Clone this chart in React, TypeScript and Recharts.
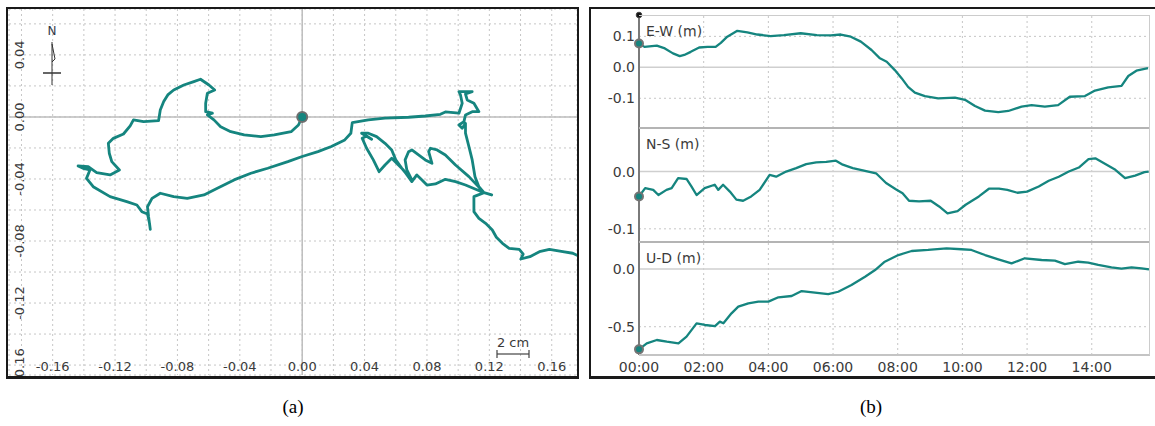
import { LineChart, Line, XAxis, YAxis, CartesianGrid, ReferenceLine, ReferenceDot } from 'recharts'

// ---- panel (a): horizontal track, metres east / north of the start point ----
const trackEast = [
  0, -0.0024, -0.0071, -0.0179, -0.0265, -0.0372, -0.0458, -0.0523, -0.0566, -0.0608,
  -0.0576, -0.0619, -0.0619, -0.0608, -0.0561, -0.0598, -0.0652, -0.0695, -0.0759, -0.0824,
  -0.0862, -0.0888, -0.091, -0.0921, -0.1017, -0.1082, -0.1103, -0.1146, -0.1211, -0.1243,
  -0.1237, -0.1221, -0.1172, -0.1232, -0.1318, -0.1372, -0.1437, -0.1405, -0.1361, -0.1383,
  -0.134, -0.1232, -0.1125, -0.106, -0.1028, -0.0992, -0.0979, -0.0974, -0.0985, -0.0992,
  -0.0963, -0.091, -0.0824, -0.0737, -0.063, -0.0544, -0.0437, -0.0329, -0.0221, -0.0092,
  0.0, 0.0101, 0.0187, 0.0273, 0.0312, 0.0321, 0.0424, 0.0531, 0.0682, 0.0789,
  0.0886, 0.0918, 0.1005, 0.1026, 0.1015, 0.1005, 0.109, 0.1047, 0.1058, 0.1101,
  0.1133, 0.109, 0.1047, 0.1037, 0.1005, 0.1026, 0.1047, 0.1047, 0.1069, 0.109,
  0.1108, 0.1133, 0.1166, 0.1215, 0.1166, 0.1069, 0.0983, 0.0918, 0.0865, 0.0822,
  0.0811, 0.0832, 0.0789, 0.0746, 0.0703, 0.0682, 0.066, 0.0671, 0.0703, 0.0682,
  0.0639, 0.06, 0.0574, 0.0531, 0.0477, 0.0424, 0.0381, 0.0445, 0.0413, 0.0385,
  0.0413, 0.0456, 0.0493, 0.0531, 0.0574, 0.0606, 0.0649, 0.0703, 0.0735, 0.0768,
  0.08, 0.0854, 0.0918, 0.0983, 0.1047, 0.1112, 0.1166, 0.1101, 0.1101, 0.1133,
  0.1176, 0.1219, 0.1245, 0.1284, 0.1327, 0.1392, 0.1417, 0.1402, 0.146, 0.1521,
  0.1585, 0.1671, 0.1735, 0.179,
]
const trackNorth = [
  0, -0.0052, -0.0095, -0.0116, -0.0127, -0.0116, -0.0095, -0.0063, -0.0019, 0.0013,
  0.0024, 0.0034, 0.0088, 0.0153, 0.0174, 0.0206, 0.0243, 0.0228, 0.0206, 0.0174,
  0.0142, 0.0099, 0.0045, -0.0024, -0.003, -0.0019, -0.0058, -0.011, -0.0138, -0.017,
  -0.0234, -0.0288, -0.0342, -0.0374, -0.0359, -0.0321, -0.0316, -0.0331, -0.0342, -0.0396,
  -0.045, -0.0514, -0.0546, -0.0568, -0.0611, -0.0626, -0.0686, -0.0725, -0.0643, -0.0579,
  -0.0525, -0.0492, -0.0514, -0.0525, -0.0503, -0.046, -0.0406, -0.0363, -0.0331, -0.0288,
  -0.0255, -0.0224, -0.0191, -0.0148, -0.0105, -0.0037, -0.0019, -0.0008, -0.0002, 0.0006,
  0.0017, 0.0032, 0.0024, 0.0088, 0.0142, 0.0163, 0.0163, 0.0148, 0.011, 0.0088,
  0.0034, 0.0034, 0.0013, -0.003, -0.0052, -0.0073, -0.0041, -0.0105, -0.0191, -0.0277,
  -0.0385, -0.045, -0.0488, -0.0503, -0.0488, -0.0385, -0.031, -0.0245, -0.0213, -0.0202,
  -0.0224, -0.0299, -0.0277, -0.0245, -0.0213, -0.0224, -0.0277, -0.0342, -0.0406, -0.0385,
  -0.0331, -0.0277, -0.0213, -0.017, -0.0127, -0.0105, -0.0105, -0.0144, -0.0123, -0.0138,
  -0.0202, -0.0277, -0.0353, -0.031, -0.0267, -0.0299, -0.0342, -0.0417, -0.0374, -0.0406,
  -0.0439, -0.0432, -0.0402, -0.0417, -0.0439, -0.0466, -0.0488, -0.0514, -0.0611, -0.0654,
  -0.0686, -0.0729, -0.0776, -0.0815, -0.0847, -0.0854, -0.0884, -0.0916, -0.0901, -0.0869,
  -0.0854, -0.0869, -0.0879, -0.0905,
]
const gridEast = [-0.18, -0.16, -0.14, -0.12, -0.1, -0.08, -0.06, -0.04, -0.02, 0, 0.02, 0.04, 0.06, 0.08, 0.1, 0.12, 0.14, 0.16]
const gridNorth = [0.06, 0.04, 0.02, 0, -0.02, -0.04, -0.06, -0.08, -0.1, -0.12, -0.14, -0.16]

// ---- panel (b): time series, hours since start ----
const ewTime = [0, 0.17, 0.55, 0.8, 1.05, 1.26, 1.4, 1.6, 1.86, 2.12, 2.37, 2.53, 2.73, 3.04, 3.35, 3.66, 4.07, 4.48, 5.0, 5.5, 5.93, 6.24, 6.55, 6.86, 7.19, 7.45, 7.66, 7.91, 8.12, 8.32, 8.53, 8.84, 9.25, 9.77, 10.08, 10.39, 10.7, 11.11, 11.42, 11.83, 12.14, 12.55, 12.96, 13.32, 13.79, 14.1, 14.51, 14.92, 15.13, 15.38, 15.74]
const ewValue = [0.077, 0.066, 0.07, 0.061, 0.045, 0.036, 0.04, 0.05, 0.064, 0.066, 0.066, 0.079, 0.099, 0.118, 0.113, 0.106, 0.101, 0.104, 0.11, 0.104, 0.103, 0.106, 0.099, 0.083, 0.056, 0.029, 0.018, -0.009, -0.035, -0.063, -0.082, -0.093, -0.1, -0.098, -0.105, -0.125, -0.14, -0.145, -0.141, -0.127, -0.122, -0.127, -0.122, -0.095, -0.093, -0.075, -0.065, -0.06, -0.028, -0.011, -0.003]

const nsTime = [0, 0.19, 0.44, 0.6, 0.85, 1.01, 1.21, 1.47, 1.62, 1.78, 2.03, 2.34, 2.45, 2.6, 2.81, 3.01, 3.22, 3.47, 3.73, 4.04, 4.24, 4.55, 4.86, 5.17, 5.48, 5.79, 6.09, 6.3, 6.61, 6.92, 7.33, 7.64, 7.94, 8.15, 8.35, 8.66, 9.02, 9.28, 9.54, 9.85, 10.1, 10.51, 10.82, 11.13, 11.39, 11.7, 12.0, 12.36, 12.67, 12.98, 13.29, 13.6, 13.9, 14.11, 14.42, 14.73, 15.03, 15.34, 15.63, 15.76]
const nsValue = [-0.0435, -0.029, -0.032, -0.041, -0.032, -0.029, -0.0116, -0.013, -0.026, -0.041, -0.029, -0.023, -0.032, -0.023, -0.035, -0.049, -0.051, -0.0435, -0.032, -0.006, -0.009, 0.0, 0.006, 0.013, 0.016, 0.017, 0.019, 0.012, 0.006, 0.002, -0.003, -0.02, -0.031, -0.038, -0.051, -0.052, -0.051, -0.061, -0.073, -0.069, -0.058, -0.0435, -0.03, -0.03, -0.032, -0.037, -0.035, -0.026, -0.016, -0.009, 0.0, 0.007, 0.0215, 0.023, 0.013, 0.003, -0.0116, -0.007, -0.001, 0.0]

const udTime = [0, 0.24, 0.55, 0.86, 1.22, 1.47, 1.78, 2.04, 2.35, 2.5, 2.61, 2.86, 3.07, 3.38, 3.69, 4.0, 4.31, 4.72, 5.03, 5.44, 5.85, 6.16, 6.57, 6.99, 7.3, 7.6, 8.02, 8.43, 8.94, 9.51, 9.97, 10.28, 10.7, 11.11, 11.52, 11.93, 12.45, 12.86, 13.17, 13.58, 13.89, 14.2, 14.61, 14.92, 15.23, 15.54, 15.77]
const udValue = [-0.696, -0.644, -0.615, -0.63, -0.644, -0.586, -0.471, -0.485, -0.494, -0.456, -0.47, -0.384, -0.326, -0.297, -0.283, -0.283, -0.245, -0.234, -0.191, -0.205, -0.217, -0.197, -0.139, -0.067, -0.009, 0.063, 0.121, 0.156, 0.165, 0.179, 0.171, 0.165, 0.121, 0.084, 0.049, 0.093, 0.078, 0.072, 0.043, 0.063, 0.055, 0.035, 0.015, 0.003, 0.015, 0.006, -0.003]

const hourTicks = [0, 2, 4, 6, 8, 10, 12, 14]

const TEAL = '#15857f'
const INK = '#3a3a3a'
const SANS = '"DejaVu Sans", Verdana, sans-serif'

const track = trackEast.map((x, i) => ({ x, y: trackNorth[i] }))
const zip = (t: number[], v: number[]) => t.map((h, i) => ({ t: h, v: v[i] }))

const isLabelled = (v: number) => Math.abs(Math.round(v * 100)) % 4 === 0

// tick labels of panel (a) sit inside the plot frame
function TrackXTick(props: any) {
  const { x, payload } = props
  if (!isLabelled(payload.value)) return <g />
  return (
    <text x={x} y={362} textAnchor="middle" fontSize={13} fontFamily={SANS} fill={INK}>
      {payload.value.toFixed(2)}
    </text>
  )
}

function TrackYTick(props: any) {
  const { y, payload } = props
  if (!isLabelled(payload.value)) return <g />
  return (
    <text transform={`translate(16,${y}) rotate(-90)`} textAnchor="middle" fontSize={13} fontFamily={SANS} fill={INK}>
      {payload.value.toFixed(2)}
    </text>
  )
}

function TrackPanel() {
  return (
    <div style={{ position: 'absolute', left: 8, top: 9 }}>
      <LineChart width={569} height={367} data={track} margin={{ top: 0, right: 0, bottom: 0, left: 0 }}>
        <CartesianGrid stroke="#c6c6c6" strokeDasharray="2 3" />
        <XAxis type="number" dataKey="x" domain={[-0.188, 0.1762]} ticks={gridEast} allowDataOverflow
          interval={0} height={1} axisLine={false} tickLine={false} tick={TrackXTick} />
        <YAxis type="number" domain={[-0.1664, 0.0696]} ticks={gridNorth} allowDataOverflow
          interval={0} width={1} axisLine={false} tickLine={false} tick={TrackYTick} />
        <ReferenceLine x={0} stroke="#bdbdbd" strokeWidth={1.5} />
        <ReferenceLine y={0} stroke="#bdbdbd" strokeWidth={1.5} />
        <Line dataKey="y" stroke={TEAL} strokeWidth={2.8} dot={false} isAnimationActive={false} strokeLinejoin="round" />
        <ReferenceDot x={0} y={0} r={5} fill={TEAL} stroke="#6e6e6e" strokeWidth={2} />
      </LineChart>
    </div>
  )
}

interface StripProps {
  data: { t: number; v: number }[]
  domain: [number, number]
  ticks: number[]
  top: number
  height: number
  marginTop: number
  showTime?: boolean
}

function Strip({ data, domain, ticks, top, height, marginTop, showTime }: StripProps) {
  return (
    <div style={{ position: 'absolute', left: 590, top }}>
      <LineChart width={560} height={height} data={data} margin={{ top: marginTop, right: 1, bottom: 0, left: 0 }}>
        <XAxis type="number" dataKey="t" domain={[0, 15.77]} ticks={hourTicks} interval={0}
          hide={!showTime} height={showTime ? 23 : 0} axisLine={false} tickLine={false} tickSize={0} tickMargin={7}
          tick={{ fontSize: 14, fontFamily: SANS, fill: INK }}
          tickFormatter={(h: number) => `${String(h).padStart(2, '0')}:00`} />
        <YAxis type="number" domain={domain} ticks={ticks} interval={0} width={49} allowDataOverflow
          axisLine={{ stroke: '#7a7a7a', strokeWidth: 2 }} tickLine={false} tickSize={0} tickMargin={4}
          tick={{ fontSize: 14, fontFamily: SANS, fill: INK }} tickFormatter={(v: number) => v.toFixed(1)} />
        {hourTicks.slice(1).map((h) => (
          <ReferenceLine key={h} x={h} stroke="#c6c6c6" strokeDasharray="2 3" />
        ))}
        {ticks.map((v) => (
          <ReferenceLine key={v} y={v} stroke={v === 0 ? '#cfcfcf' : '#c6c6c6'} strokeWidth={v === 0 ? 1.5 : 1}
            strokeDasharray={v === 0 ? undefined : '2 3'} />
        ))}
        <Line dataKey="v" stroke={TEAL} strokeWidth={2.3} dot={false} isAnimationActive={false} strokeLinejoin="round" />
        <ReferenceDot x={0} y={data[0].v} r={4} fill={TEAL} stroke="#747474" strokeWidth={2} />
        {marginTop > 0 && <ReferenceDot x={0} y={domain[1]} r={2.8} fill="#111" stroke="#444" strokeWidth={1} />}
      </LineChart>
    </div>
  )
}

const hline = (left: number, top: number, width: number, color: string, h = 1) => (
  <div style={{ position: 'absolute', left, top, width, height: h, background: color }} />
)

export default function App() {
  return (
    <div style={{ position: 'absolute', left: 0, top: 0, width: 1155, height: 426, background: '#fff', overflow: 'hidden' }}>
      <TrackPanel />
      {/* north arrow + scale bar */}
      <svg width={579} height={379} style={{ position: 'absolute', left: 0, top: 0, pointerEvents: 'none' }}>
        <text x={52} y={35} textAnchor="middle" fontSize={12} fontFamily={SANS} fill="#333a48">N</text>
        <line x1={52} y1={42} x2={52} y2={85} stroke="#333" strokeWidth={1} />
        <polyline points="52,44 55,59 52,62" fill="none" stroke="#333" strokeWidth={1} />
        <line x1={43} y1={73} x2={61} y2={73} stroke="#333" strokeWidth={1.5} />
        <text x={513} y={347} textAnchor="middle" fontSize={13} fontFamily={SANS} fill={INK}>2 cm</text>
        <line x1={497} y1={354} x2={529} y2={354} stroke="#444" strokeWidth={1.2} />
        <line x1={497} y1={350} x2={497} y2={358} stroke="#444" strokeWidth={1.2} />
        <line x1={529} y1={350} x2={529} y2={358} stroke="#444" strokeWidth={1.2} />
      </svg>
      <div style={{ position: 'absolute', left: 6, top: 7, width: 573, height: 372, boxSizing: 'border-box',
        borderTop: '2px solid #1a1a1a', borderLeft: '2px solid #1a1a1a', borderRight: '2px solid #1a1a1a', borderBottom: '3px solid #1a1a1a' }} />

      <Strip data={zip(ewTime, ewValue)} domain={[-0.196, 0.169]} ticks={[0.1, 0, -0.1]} top={8} height={120} marginTop={7} />
      <Strip data={zip(nsTime, nsValue)} domain={[-0.123, 0.076]} ticks={[0, -0.1]} top={128} height={114} marginTop={0} />
      <Strip data={zip(udTime, udValue)} domain={[-0.745, 0.234]} ticks={[0, -0.5]} top={242} height={136} marginTop={0} showTime />

      {hline(639, 15, 510, '#cccccc')}
      {hline(639, 127, 510, '#b4b4b4', 1.5)}
      {hline(639, 241, 510, '#b4b4b4', 1.5)}
      {hline(639, 354, 511, '#c4c4c4', 1.5)}
      <div style={{ position: 'absolute', left: 1149, top: 15, width: 1, height: 340, background: '#cccccc' }} />

      {[['E-W (m)', 24], ['N-S (m)', 137], ['U-D (m)', 251]].map(([t, y]) => (
        <div key={t as string} style={{ position: 'absolute', left: 646, top: y as number, fontFamily: SANS, fontSize: 14, color: INK, lineHeight: '14px', whiteSpace: 'nowrap' }}>{t}</div>
      ))}

      <div style={{ position: 'absolute', left: 589, top: 7, width: 570, height: 372, boxSizing: 'border-box',
        borderTop: '2px solid #1a1a1a', borderLeft: '2px solid #1a1a1a', borderBottom: '3px solid #1a1a1a' }} />

      <div style={{ position: 'absolute', left: 268, top: 396, width: 50, textAlign: 'center', fontFamily: '"Liberation Serif", serif', fontSize: 19, color: '#000' }}>(a)</div>
      <div style={{ position: 'absolute', left: 846, top: 396, width: 50, textAlign: 'center', fontFamily: '"Liberation Serif", serif', fontSize: 19, color: '#000' }}>(b)</div>
    </div>
  )
}
